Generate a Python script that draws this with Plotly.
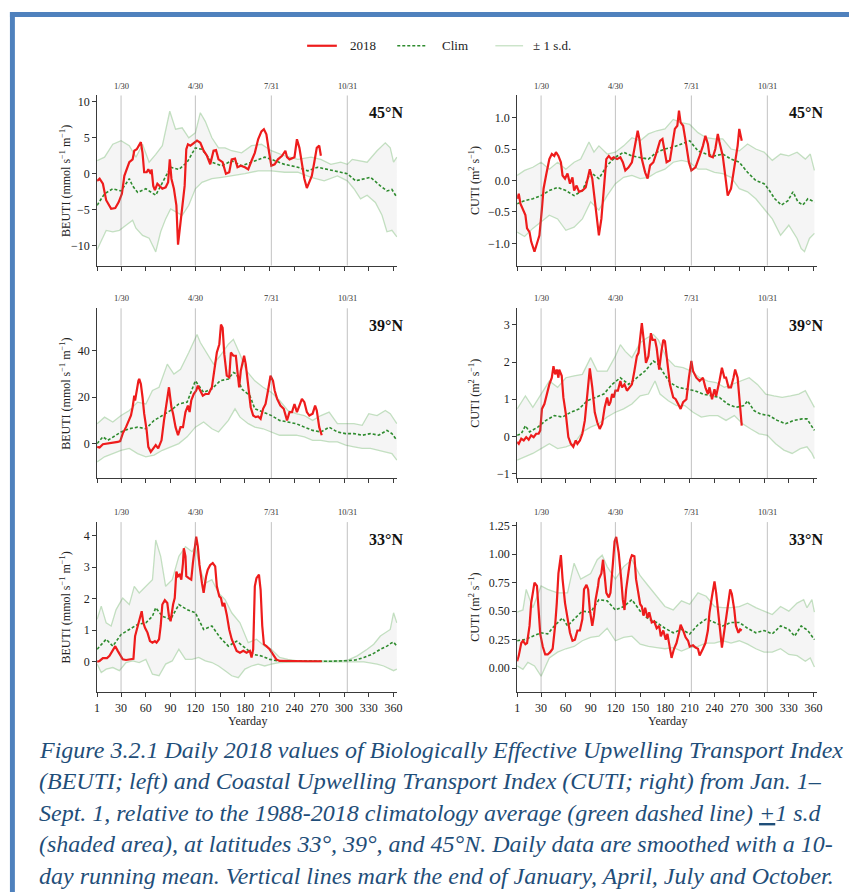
import plotly.graph_objects as go

# ---------------------------------------------------------------- data
# Month-end reference days and their labels
MONTH_END_DAYS = [30, 120, 212, 304]
MONTH_END_LABELS = ["1/30", "4/30", "7/31", "10/31"]
X_TICKS = [1, 30, 60, 90, 120, 150, 180, 210, 240, 270, 300, 330, 360]

# BEUTI 45N
beuti45_day = [1, 4, 8, 12, 18, 23, 27, 31, 34, 40, 44, 46, 49, 51, 54, 56, 58, 61, 63, 66,
               67, 69, 71, 74, 77, 80, 84, 87, 89, 91, 94, 97, 99, 102, 105, 107, 109, 111, 114, 118,
               122, 126, 130, 134, 138, 142, 145, 148, 153, 157, 161, 164, 168, 171, 175, 180, 184, 188, 192, 196,
               200, 203, 206, 209, 212, 216, 220, 225, 229, 231, 234, 240, 243, 246, 249, 252, 255, 258, 261, 264,
               267, 270, 272]
beuti45_2018 = [-1.0, -0.7, -1.4, -3.7, -4.9, -4.8, -4.0, -2.8, -0.3, 1.6, 2.0, 3.2, 3.4, 3.9, 4.4, 2.9, 0.2, 0.2, 0.6, 0.0,
                0.6, -1.7, -2.3, -1.4, -1.7, -2.1, -1.9, -1.2, 2.0, -0.7, -2.1, -4.4, -9.9, -6.7, -3.0, -1.7, 3.4, 4.1, 3.9, 4.3,
                4.6, 4.3, 3.2, 2.5, 1.3, 3.2, 3.3, 2.0, 1.6, 0.0, 0.2, 2.0, 2.1, 0.9, 1.1, 0.9, 0.6, 1.8, 2.9, 4.8,
                5.9, 6.2, 5.5, 3.2, 1.1, 1.3, 2.0, 2.5, 3.2, 2.3, 2.0, 2.3, 4.8, 3.6, 1.6, -0.7, -2.0, -1.0, -0.3, 1.6,
                3.6, 3.9, 2.5]
beuti45_clim_day = [1, 10, 20, 30, 40, 44, 50, 60, 72, 80, 90, 100, 110, 120, 128, 140, 152, 164, 176, 188,
                    204, 212, 228, 244, 256, 268, 280, 292, 304, 314, 324, 332, 344, 352, 358, 364]
beuti45_clim = [-4.4, -2.8, -2.1, -2.4, -0.7, -1.7, -2.6, -2.1, -3.0, -1.2, 0.9, 0.6, 1.6, 3.6, 3.4, 1.6, 1.1, 1.8, 1.1, 1.6,
                2.3, 2.0, 1.3, 0.9, 0.4, 0.9, 0.6, 0.3, 0.0, -1.0, -0.7, -0.5, -1.7, -2.4, -2.2, -3.3]
beuti45_hi_day = [1, 10, 20, 30, 40, 48, 56, 64, 72, 80, 89, 96, 104, 112, 120, 126, 132, 140, 148, 156,
                  164, 176, 188, 200, 212, 228, 244, 260, 272, 284, 296, 304, 310, 320, 328, 340, 350, 356, 360, 364]
beuti45_hi = [1.8, 2.3, 4.1, 4.6, 3.9, 2.3, 4.1, 1.6, 2.7, 3.9, 8.7, 6.2, 6.4, 5.0, 5.7, 8.5, 7.3, 5.0, 3.6, 3.6,
              3.2, 2.9, 3.9, 4.1, 3.2, 2.5, 2.0, 2.3, 2.0, 1.3, 1.6, 1.3, 2.0, 1.8, 1.6, 3.2, 4.3, 3.6, 1.6, 2.3]
beuti45_lo_day = [1, 6, 12, 20, 28, 36, 44, 48, 56, 64, 72, 78, 84, 90, 96, 104, 112, 120, 128, 140,
                  152, 164, 180, 196, 212, 228, 244, 260, 276, 292, 304, 312, 320, 328, 338, 346, 352, 358, 364]
beuti45_lo = [-10.6, -9.3, -7.9, -8.1, -7.9, -7.2, -6.5, -7.6, -8.6, -9.0, -10.9, -8.1, -6.3, -4.9, -5.3, -5.8, -4.4, -2.1, -1.2, -0.7,
              -0.5, -0.3, 0.0, 0.4, 0.4, 0.2, 0.2, -0.5, -1.0, -0.3, -1.0, -2.1, -3.5, -3.0, -4.0, -5.8, -8.1, -7.9, -8.8]

# CUTI 45N
cuti45_day = [1, 3, 5, 8, 11, 13, 16, 18, 22, 25, 28, 31, 33, 36, 40, 43, 46, 48, 51, 54,
              56, 59, 62, 65, 68, 70, 73, 76, 80, 84, 87, 89, 92, 95, 98, 100, 103, 106, 109, 112,
              115, 118, 122, 126, 129, 132, 136, 140, 144, 147, 149, 152, 156, 159, 162, 166, 170, 174, 177, 180,
              182, 186, 189, 192, 195, 197, 199, 202, 206, 209, 212, 214, 217, 222, 226, 229, 232, 234, 238, 241,
              244, 246, 250, 253, 256, 260, 264, 268, 270, 273]
cuti45_2018 = [-0.29, -0.21, -0.37, -0.45, -0.55, -0.76, -0.82, -0.97, -1.13, -1.0, -0.87, -0.45, -0.13, 0.08, 0.34, 0.42, 0.39, 0.45, 0.39, 0.29,
               0.08, 0.03, 0.11, -0.05, 0.05, -0.16, -0.08, -0.18, -0.16, -0.11, 0.05, 0.18, 0.03, -0.34, -0.61, -0.87, -0.61, -0.13, 0.34, 0.39,
               0.34, 0.37, 0.34, 0.37, 0.29, 0.16, 0.21, 0.29, 0.55, 0.79, 0.66, 0.34, 0.13, 0.03, 0.24, 0.29, 0.45, 0.63, 0.66, 0.39,
               0.29, 0.32, 0.55, 0.82, 0.87, 1.11, 0.92, 0.87, 0.55, 0.29, 0.16, 0.18, 0.21, 0.39, 0.55, 0.71, 0.58, 0.39, 0.37, 0.50,
               0.74, 0.61, 0.39, 0.08, -0.24, -0.13, 0.18, 0.55, 0.82, 0.63]
cuti45_clim_day = [1, 10, 20, 30, 40, 50, 60, 70, 80, 90, 100, 110, 120, 130, 140, 150, 160, 170, 180, 190,
                   200, 210, 220, 230, 240, 250, 260, 270, 280, 290, 300, 305, 313, 321, 329, 335, 341, 347, 353, 361]
cuti45_clim = [-0.37, -0.32, -0.29, -0.24, -0.16, -0.11, -0.16, -0.24, -0.16, 0.13, 0.03, 0.24, 0.37, 0.45, 0.39, 0.37, 0.34, 0.45, 0.50, 0.53,
               0.58, 0.63, 0.47, 0.42, 0.39, 0.42, 0.34, 0.29, 0.13, 0.0, -0.05, -0.13, -0.29, -0.39, -0.32, -0.18, -0.34, -0.39, -0.29, -0.34]
cuti45_hi_day = [1, 10, 20, 30, 40, 50, 60, 70, 78, 88, 94, 100, 110, 120, 130, 140, 150, 160, 170, 180,
                 190, 200, 210, 220, 230, 240, 250, 260, 270, 280, 290, 300, 310, 320, 330, 340, 350, 356, 361]
cuti45_hi = [0.08, 0.16, 0.21, 0.29, 0.18, 0.29, 0.18, 0.29, 0.34, 0.61, 0.45, 0.55, 0.42, 0.45, 0.55, 0.68, 0.63, 0.74, 0.79, 0.82,
             0.97, 0.92, 0.89, 0.76, 0.68, 0.66, 0.66, 0.50, 0.47, 0.58, 0.50, 0.45, 0.32, 0.42, 0.39, 0.45, 0.34, 0.42, 0.16]
cuti45_lo_day = [1, 10, 20, 30, 40, 50, 60, 70, 80, 90, 100, 110, 120, 130, 140, 150, 160, 170, 180, 190,
                 200, 210, 220, 230, 240, 250, 260, 270, 280, 290, 300, 310, 320, 330, 340, 345, 349, 355, 361]
cuti45_lo = [-0.82, -0.89, -0.76, -0.66, -0.55, -0.61, -0.79, -0.74, -0.61, -0.34, -0.47, -0.24, -0.05, 0.05, 0.08, 0.03, 0.05, 0.13, 0.18, 0.29,
             0.32, 0.29, 0.18, 0.18, 0.13, 0.11, 0.05, -0.13, -0.18, -0.29, -0.45, -0.61, -0.87, -0.71, -0.92, -1.08, -1.13, -0.92, -0.84]

# BEUTI 39N
beuti39_day = [1, 4, 8, 14, 20, 26, 29, 32, 36, 39, 42, 44, 46, 47, 49, 51, 52, 54, 56, 58,
               61, 63, 66, 69, 72, 75, 79, 82, 85, 88, 91, 93, 96, 99, 102, 105, 108, 111, 113, 115,
               118, 121, 123, 126, 129, 132, 136, 140, 143, 146, 149, 151, 153, 155, 158, 161, 163, 166, 169, 171,
               173, 175, 179, 181, 184, 187, 190, 193, 196, 199, 202, 205, 208, 211, 214, 216, 219, 223, 227, 231,
               234, 237, 240, 243, 246, 249, 252, 255, 258, 262, 265, 267, 270, 273]
beuti39_2018 = [-1.4, -1.7, -0.3, 0, 0.4, 0.7, 1.1, 4.3, 7.1, 10, 12.1, 15.7, 20.7, 18.6, 23.6, 27.1, 27.9, 25.7, 20, 12.9,
                5.7, -1.4, -3.6, -2.1, -0.7, -2.1, 1.4, 10, 17.1, 24.3, 15.7, 12.9, 7.1, 3.6, 7.1, 7.1, 13.6, 16.4, 13.6, 18.6,
                21.4, 22.9, 25, 22.9, 20.7, 21.4, 21.4, 24.3, 32.9, 39.3, 42.9, 51.4, 50, 38.6, 29.3, 28.6, 39.3, 37.9, 37.9, 31.4,
                24.3, 31.4, 37.9, 34.3, 24.3, 15.7, 12.1, 11.4, 11.7, 10.7, 15, 17.1, 22.9, 29.3, 27.1, 22.9, 19.3, 16.4, 15, 10,
                13.6, 13.6, 17.1, 13.6, 16.4, 19.3, 17.9, 13.6, 12.1, 12.9, 16.4, 14.3, 7.1, 3.6]
beuti39_clim_day = [1, 8, 14, 20, 30, 40, 50, 60, 70, 80, 90, 100, 110, 120, 130, 140, 150, 160, 166, 170,
                    176, 186, 192, 202, 212, 222, 232, 242, 252, 262, 272, 282, 292, 302, 312, 322, 332, 342, 352, 358, 364]
beuti39_clim = [0, 2.9, 1.4, 2.9, 5, 6.4, 7.1, 6.4, 10, 12.1, 14.3, 17.1, 17.9, 27.1, 22.1, 23.6, 27.1, 27.9, 30.7, 30,
                23.6, 20.7, 15, 13.6, 12.1, 10, 9.3, 8.6, 7.1, 5.7, 5, 7.1, 5, 4.3, 4.3, 3.6, 4.3, 3.6, 5.7, 4.3, 1.4]
beuti39_hi_day = [1, 10, 20, 30, 40, 50, 60, 68, 76, 86, 94, 102, 112, 118, 122, 126, 132, 142, 150, 160,
                  166, 174, 182, 192, 202, 212, 222, 232, 242, 252, 262, 272, 282, 292, 302, 312, 322, 330, 340, 350, 356, 364]
beuti39_hi = [8.6, 11.4, 9.3, 12.1, 14.3, 17.9, 17.1, 22.9, 24.3, 34.3, 30, 32.1, 39.3, 43.6, 47.1, 43.6, 40, 34.3, 37.9, 42.9,
              45, 38.6, 31.4, 27.1, 24.3, 22.1, 18.6, 14.3, 12.9, 12.1, 10, 12.1, 13.6, 8.6, 8.6, 8.6, 7.9, 12.9, 12.1, 14.3, 12.9, 8.6]
beuti39_lo_day = [1, 10, 20, 30, 40, 50, 60, 70, 80, 90, 100, 110, 120, 130, 140, 148, 160, 168, 174, 184,
                  192, 202, 212, 222, 232, 242, 252, 262, 272, 282, 292, 302, 312, 322, 332, 342, 352, 358, 364]
beuti39_lo = [-7.9, -5.7, -4.3, -2.9, -2.1, -4.3, -5.7, -5, -2.9, -1.4, 0, 2.9, 7.1, 9.3, 6.4, 5, 10, 15, 11.4, 8.6,
              7.1, 6.4, 5, 3.6, 3.6, 3.6, 2.9, 1.4, 1.4, 0.7, 0.7, -0.7, -1.4, -2.1, -2.1, -2.9, -3.6, -4.3, -7.1]

# CUTI 39N
cuti39_day = [1, 3, 6, 9, 12, 15, 18, 21, 24, 27, 29, 31, 34, 37, 40, 43, 45, 47, 49, 51,
              52, 55, 57, 60, 63, 66, 69, 72, 74, 77, 80, 83, 86, 88, 89, 92, 95, 98, 101, 104,
              107, 110, 112, 114, 116, 118, 120, 123, 126, 128, 131, 134, 137, 140, 143, 146, 148, 150, 152, 154,
              157, 160, 163, 165, 168, 170, 173, 176, 178, 180, 184, 186, 190, 193, 196, 199, 202, 206, 209, 212,
              214, 218, 222, 226, 229, 232, 234, 237, 240, 242, 246, 249, 252, 254, 257, 260, 263, 265, 268, 270, 273]
cuti39_2018 = [-0.15, -0.2, -0.06, -0.11, -0.02, -0.09, 0.03, -0.02, 0.07, 0.07, 0.16, 0.74, 0.87, 1.18, 1.4, 1.58, 1.89, 1.67, 1.8, 1.58,
               1.8, 1.63, 1.05, 0.6, -0.02, -0.2, -0.28, -0.11, -0.2, -0.11, 0.07, 0.43, 1.14, 1.58, 1.83, 1.32, 0.65, 0.38, 0.2, 0.34,
               0.78, 1.05, 0.83, 0.92, 1.14, 1.05, 1.23, 1.23, 1.49, 1.32, 1.4, 1.23, 1.32, 1.4, 1.76, 2.16, 2.25, 2.74, 3.05, 2.65,
               1.98, 2.16, 2.78, 2.6, 2.6, 2.38, 1.8, 2.33, 2.6, 2.56, 1.76, 1.4, 1.05, 1.0, 0.87, 0.74, 0.92, 1.0, 1.58, 2.03,
               1.76, 1.58, 1.49, 1.58, 1.32, 1.14, 1.32, 1.0, 1.27, 1.09, 1.49, 1.85, 1.58, 1.58, 1.32, 1.32, 1.58, 1.8, 1.58, 0.96, 0.29]
cuti39_clim_day = [1, 6, 11, 16, 26, 36, 46, 56, 66, 76, 86, 96, 106, 116, 126, 136, 146, 156, 166, 172,
                   178, 186, 196, 206, 216, 226, 236, 246, 256, 266, 276, 280, 288, 296, 306, 316, 326, 336, 346, 352, 361]
cuti39_clim = [0.03, 0.07, 0.29, 0.12, 0.25, 0.43, 0.56, 0.52, 0.65, 0.74, 0.96, 1.05, 1.14, 1.4, 1.58, 1.4, 1.58, 1.76, 2.03, 1.94,
               1.72, 1.45, 1.32, 1.27, 1.23, 1.14, 1.09, 1.05, 0.87, 0.78, 0.83, 0.96, 0.69, 0.6, 0.56, 0.43, 0.34, 0.43, 0.47, 0.47, 0.16]
cuti39_hi_day = [1, 11, 20, 30, 40, 50, 60, 70, 80, 90, 98, 110, 120, 126, 132, 140, 150, 158, 166, 172,
                 182, 192, 202, 212, 222, 232, 242, 252, 262, 272, 282, 292, 302, 312, 322, 332, 342, 350, 356, 361]
cuti39_hi = [0.74, 1.09, 0.78, 1.14, 1.49, 1.32, 1.58, 1.63, 1.67, 2.12, 1.76, 1.76, 2.16, 2.47, 2.29, 2.12, 2.52, 2.65, 2.74, 2.6,
             2.12, 1.89, 1.85, 1.76, 1.58, 1.49, 1.45, 1.32, 1.4, 1.49, 1.58, 1.4, 1.14, 1.09, 1.05, 1.09, 1.14, 1.23, 0.96, 0.78]
cuti39_lo_day = [1, 10, 20, 30, 40, 50, 60, 70, 80, 90, 100, 110, 120, 130, 140, 150, 160, 168, 174, 184,
                 194, 204, 214, 224, 234, 244, 254, 264, 274, 284, 294, 304, 314, 324, 334, 344, 352, 358, 361]
cuti39_lo = [-0.64, -0.55, -0.46, -0.33, -0.2, -0.33, -0.28, -0.2, 0.12, 0.25, 0.34, 0.52, 0.65, 0.74, 0.87, 1.09, 1.14, 1.49, 1.14, 0.96,
             0.83, 0.83, 0.65, 0.52, 0.56, 0.56, 0.43, 0.56, 0.34, 0.2, 0.07, 0.03, -0.2, -0.37, -0.46, -0.33, -0.28, -0.46, -0.6]

# BEUTI 33N
beuti33_day = [1, 4, 8, 13, 16, 20, 23, 26, 29, 32, 36, 42, 45, 47, 50, 53, 55, 57, 59, 62,
               65, 68, 71, 73, 76, 78, 80, 83, 86, 88, 90, 93, 95, 97, 99, 101, 103, 105, 106, 108,
               109, 112, 115, 117, 120, 121, 123, 125, 128, 130, 133, 135, 138, 141, 144, 146, 149, 151, 153, 155,
               158, 161, 164, 167, 170, 174, 178, 182, 186, 188, 190, 192, 194, 197, 199, 201, 203, 206, 210, 214,
               218, 222, 232, 244, 256, 268, 273]
beuti33_2018 = [0, 0.02, 0.11, 0.11, 0.18, 0.34, 0.49, 0.34, 0.18, 0.07, 0.05, 0.07, 0.09, 0.81, 1.13, 1.44, 1.6, 1.23, 1.07, 0.92,
                0.65, 0.6, 0.65, 0.6, 0.71, 1.13, 1.81, 1.95, 1.86, 1.44, 1.28, 1.81, 2.02, 2.86, 2.71, 2.76, 2.6, 3.13, 3.6, 3.34,
                2.71, 2.65, 2.6, 3.13, 3.86, 3.97, 3.65, 3.07, 2.49, 2.18, 2.71, 2.92, 3.07, 3.13, 3.02, 2.39, 2.07, 2.02, 1.76, 1.86,
                1.49, 1.02, 0.71, 0.49, 0.34, 0.28, 0.34, 0.28, 0.34, 0.13, 0.39, 2.39, 2.65, 2.76, 2.28, 1.13, 0.55, 0.49, 0.39, 0.23,
                0.07, 0.02, 0.01, 0.01, 0.01, 0.01, 0.01]
beuti33_clim_day = [1, 8, 12, 20, 30, 40, 50, 60, 68, 72, 80, 90, 100, 110, 120, 130, 140, 150, 160, 170,
                    180, 190, 200, 210, 220, 240, 264, 284, 304, 314, 324, 334, 344, 352, 358, 360, 364]
beuti33_clim = [0.39, 0.6, 0.71, 0.49, 0.86, 1.02, 1.18, 1.23, 1.44, 1.71, 1.44, 1.34, 1.81, 1.65, 1.55, 1.02, 1.13, 0.76, 0.49, 0.65,
                0.44, 0.23, 0.18, 0.07, 0.02, 0.01, 0.01, 0.01, 0.03, 0.05, 0.13, 0.23, 0.39, 0.49, 0.6, 0.62, 0.49]
beuti33_hi_day = [1, 6, 12, 18, 24, 32, 40, 46, 52, 60, 68, 72, 78, 84, 92, 100, 108, 116, 120, 126,
                  132, 140, 148, 156, 164, 174, 184, 194, 204, 212, 222, 232, 244, 264, 284, 304, 316, 328, 336, 344,
                  350, 356, 360, 364]
beuti33_hi = [1.34, 1.76, 1.23, 1.13, 1.65, 2.02, 1.81, 2.39, 2.18, 2.39, 2.6, 3.86, 3.34, 2.39, 2.6, 3.34, 3.65, 3.49, 3.65, 2.92,
              2.49, 2.6, 2.18, 1.97, 1.55, 1.23, 0.6, 0.71, 0.49, 0.39, 0.13, 0.07, 0.02, 0.03, 0.02, 0.04, 0.18, 0.39, 0.55, 0.81,
              0.92, 1.02, 1.55, 1.23]
beuti33_lo_day = [1, 6, 12, 20, 28, 36, 44, 52, 60, 68, 76, 84, 92, 100, 108, 116, 124, 132, 140, 148,
                  156, 164, 172, 180, 188, 196, 204, 212, 222, 244, 284, 304, 324, 340, 348, 356, 360, 364]
beuti33_lo = [-0.08, -0.35, -0.24, -0.19, -0.29, -0.03, 0.02, -0.03, 0.07, -0.4, -0.45, -0.08, 0.02, 0.39, 0.07, 0.07, 0.13, 0.02, -0.03, -0.14,
              -0.29, -0.45, -0.51, -0.24, -0.14, -0.08, -0.14, -0.08, -0.03, -0.01, -0.01, -0.01, -0.01, -0.08, -0.14, -0.24, -0.29, -0.24]

# CUTI 33N
cuti33_day = [1, 3, 6, 8, 11, 13, 16, 18, 20, 22, 25, 27, 29, 32, 35, 38, 41, 44, 47, 49,
              51, 54, 56, 59, 62, 65, 68, 71, 74, 77, 80, 82, 85, 87, 89, 92, 94, 96, 99, 100,
              103, 105, 107, 109, 112, 114, 117, 119, 121, 124, 127, 129, 131, 133, 136, 138, 140, 143, 145, 148,
              150, 152, 154, 156, 159, 161, 164, 167, 170, 173, 175, 178, 181, 183, 186, 188, 191, 194, 197, 199,
              202, 205, 208, 210, 214, 217, 220, 222, 226, 229, 232, 234, 237, 240, 242, 245, 247, 249, 251, 254,
              256, 259, 261, 264, 266, 269, 271, 273]
cuti33_2018 = [0.06, 0.11, 0.22, 0.24, 0.21, 0.22, 0.37, 0.57, 0.66, 0.75, 0.72, 0.49, 0.3, 0.19, 0.12, 0.12, 0.14, 0.17, 0.37, 0.57,
               0.83, 0.99, 0.78, 0.57, 0.43, 0.31, 0.24, 0.25, 0.33, 0.33, 0.43, 0.69, 0.73, 0.69, 0.51, 0.37, 0.46, 0.6, 0.72, 0.78,
               0.83, 0.95, 0.81, 0.66, 0.62, 0.66, 0.92, 1.11, 1.15, 1.01, 0.78, 0.6, 0.51, 0.69, 0.85, 0.95, 0.99, 0.98, 0.78, 0.63,
               0.56, 0.54, 0.46, 0.53, 0.44, 0.49, 0.4, 0.41, 0.35, 0.37, 0.28, 0.33, 0.25, 0.3, 0.19, 0.09, 0.17, 0.22, 0.31, 0.38,
               0.33, 0.27, 0.24, 0.19, 0.2, 0.18, 0.17, 0.11, 0.17, 0.22, 0.33, 0.49, 0.63, 0.76, 0.66, 0.43, 0.28, 0.18, 0.28, 0.43,
               0.57, 0.69, 0.65, 0.51, 0.37, 0.31, 0.34, 0.33]
cuti33_clim_day = [1, 10, 20, 30, 38, 46, 56, 62, 70, 80, 90, 100, 110, 120, 130, 140, 150, 160, 170, 180,
                   190, 200, 210, 220, 230, 240, 250, 260, 270, 280, 290, 300, 310, 320, 330, 337, 345, 353, 361]
cuti33_clim = [0.24, 0.25, 0.28, 0.31, 0.3, 0.37, 0.44, 0.37, 0.43, 0.5, 0.49, 0.6, 0.59, 0.51, 0.54, 0.6, 0.5, 0.43, 0.4, 0.35,
               0.31, 0.34, 0.3, 0.38, 0.43, 0.4, 0.37, 0.4, 0.4, 0.35, 0.31, 0.33, 0.3, 0.37, 0.34, 0.28, 0.37, 0.33, 0.25]
cuti33_hi_day = [1, 8, 12, 20, 30, 38, 50, 62, 70, 78, 90, 98, 104, 110, 120, 130, 140, 150, 160, 170,
                 180, 190, 200, 210, 220, 230, 240, 250, 260, 270, 280, 290, 300, 310, 320, 330, 340, 348, 352, 358, 361]
cuti33_hi = [0.49, 0.51, 0.69, 0.53, 0.72, 0.69, 0.66, 0.66, 0.92, 0.78, 0.83, 0.95, 0.99, 0.89, 0.78, 0.89, 0.95, 0.81, 0.72, 0.63,
             0.54, 0.51, 0.59, 0.56, 0.66, 0.63, 0.54, 0.53, 0.53, 0.54, 0.57, 0.53, 0.5, 0.47, 0.54, 0.5, 0.57, 0.6, 0.53, 0.6, 0.49]
cuti33_lo_day = [1, 8, 14, 22, 30, 40, 50, 60, 70, 80, 90, 100, 110, 120, 130, 140, 150, 160, 170, 180,
                 190, 200, 210, 220, 230, 240, 250, 260, 270, 280, 290, 300, 310, 320, 330, 340, 350, 356, 361]
cuti33_lo = [0.02, -0.01, 0.05, 0.02, -0.07, 0.09, 0.14, 0.17, 0.19, 0.24, 0.27, 0.28, 0.35, 0.24, 0.27, 0.28, 0.21, 0.19, 0.18, 0.17,
             0.18, 0.15, 0.18, 0.19, 0.22, 0.22, 0.24, 0.22, 0.24, 0.21, 0.17, 0.14, 0.14, 0.17, 0.12, 0.11, 0.06, 0.09, 0.01]

LEGEND_LABELS = ["2018", "Clim", "± 1 s.d."]

CAPTION_LINES = [
    "Figure 3.2.1 Daily 2018 values of Biologically Effective Upwelling Transport Index",
    "(BEUTI; left) and Coastal Upwelling Transport Index (CUTI; right) from Jan. 1–",
    "Sept. 1, relative to the 1988-2018 climatology average (green dashed line) <u>+</u>1 s.d",
    "(shaded area), at latitudes 33°, 39°, and 45°N. Daily data are smoothed with a 10-",
    "day running mean. Vertical lines mark the end of January, April, July and October.",
]

# ---------------------------------------------------------------- layout constants
W, H = 854, 894
SERIF = "Liberation Serif, Times New Roman, serif"
RED = "#ee1c1c"
GREEN = "#2e8b2e"
SD_GREEN = "rgba(150,200,145,0.55)"
SHADE = "rgba(205,205,205,0.2)"
AXIS = "#3a3a3a"

COL_PX = [(95, 398), (519, 822)]              # left/right plot edges
ROW_PX = [(93, 264), (307, 478), (522, 693)]  # top/bottom plot edges

BEUTI_TITLE = "BEUTI (mmol s<sup>−1</sup> m<sup>−1</sup>)"
CUTI_TITLE = "CUTI (m<sup>2</sup> s<sup>−1</sup>)"

panels = [
    dict(row=0, col=0, lat="45°N", title=BEUTI_TITLE,
         obs=(beuti45_day, beuti45_2018), clim=(beuti45_clim_day, beuti45_clim),
         hi=(beuti45_hi_day, beuti45_hi), lo=(beuti45_lo_day, beuti45_lo),
         yrange=[-12.8, 10.9], yticks=[-10, -5, 0, 5, 10], fmt="d"),
    dict(row=0, col=1, lat="45°N", title=CUTI_TITLE,
         obs=(cuti45_day, cuti45_2018), clim=(cuti45_clim_day, cuti45_clim),
         hi=(cuti45_hi_day, cuti45_hi), lo=(cuti45_lo_day, cuti45_lo),
         yrange=[-1.35, 1.35], yticks=[-1.0, -0.5, 0.0, 0.5, 1.0], fmt=".1f"),
    dict(row=1, col=0, lat="39°N", title=BEUTI_TITLE,
         obs=(beuti39_day, beuti39_2018), clim=(beuti39_clim_day, beuti39_clim),
         hi=(beuti39_hi_day, beuti39_hi), lo=(beuti39_lo_day, beuti39_lo),
         yrange=[-15.0, 58.4], yticks=[0, 20, 40], fmt="d"),
    dict(row=1, col=1, lat="39°N", title=CUTI_TITLE,
         obs=(cuti39_day, cuti39_2018), clim=(cuti39_clim_day, cuti39_clim),
         hi=(cuti39_hi_day, cuti39_hi), lo=(cuti39_lo_day, cuti39_lo),
         yrange=[-1.13, 3.45], yticks=[-1, 0, 1, 2, 3], fmt="d"),
    dict(row=2, col=0, lat="33°N", title=BEUTI_TITLE,
         obs=(beuti33_day, beuti33_2018), clim=(beuti33_clim_day, beuti33_clim),
         hi=(beuti33_hi_day, beuti33_hi), lo=(beuti33_lo_day, beuti33_lo),
         yrange=[-0.97, 4.43], yticks=[0, 1, 2, 3, 4], fmt="d"),
    dict(row=2, col=1, lat="33°N", title=CUTI_TITLE,
         obs=(cuti33_day, cuti33_2018), clim=(cuti33_clim_day, cuti33_clim),
         hi=(cuti33_hi_day, cuti33_hi), lo=(cuti33_lo_day, cuti33_lo),
         yrange=[-0.21, 1.28], yticks=[0, 0.25, 0.5, 0.75, 1.0, 1.25], fmt=".2f"),
]

for p in panels:
    for key in ("obs", "clim", "hi", "lo"):
        assert len(p[key][0]) == len(p[key][1]), (p["lat"], key)

fig = go.Figure()
shapes, annotations = [], []


def px(x, y):
    """Pixel position (from the top-left corner) to paper coordinates."""
    return x / W, 1 - y / H


for i, p in enumerate(panels, start=1):
    suffix = "" if i == 1 else str(i)
    xa, ya = "x" + suffix, "y" + suffix
    hd, hv = p["hi"]
    ld, lv = p["lo"]

    # shaded +/- 1 s.d. envelope
    fig.add_trace(go.Scatter(
        x=list(hd) + list(ld)[::-1], y=list(hv) + list(lv)[::-1],
        fill="toself", fillcolor=SHADE, line=dict(width=0),
        mode="lines", hoverinfo="skip", xaxis=xa, yaxis=ya))
    fig.add_trace(go.Scatter(x=hd, y=hv, mode="lines", line=dict(color=SD_GREEN, width=1.3),
                             name="± 1 s.d.", xaxis=xa, yaxis=ya))
    fig.add_trace(go.Scatter(x=ld, y=lv, mode="lines", line=dict(color=SD_GREEN, width=1.3),
                             name="± 1 s.d.", xaxis=xa, yaxis=ya))
    fig.add_trace(go.Scatter(x=p["clim"][0], y=p["clim"][1], mode="lines",
                             line=dict(color=GREEN, width=1.6, dash="3px,2px"),
                             name="Clim", xaxis=xa, yaxis=ya))
    fig.add_trace(go.Scatter(x=p["obs"][0], y=p["obs"][1], mode="lines",
                             line=dict(color=RED, width=2.2),
                             name="2018", xaxis=xa, yaxis=ya))

    x0, x1 = COL_PX[p["col"]]
    top, bot = ROW_PX[p["row"]]
    bottom_row = p["row"] == 2

    fig.layout["xaxis" + suffix] = dict(
        domain=[x0 / W, x1 / W], anchor=ya, range=[1, 364.5],
        tickvals=X_TICKS, showticklabels=bottom_row,
        ticks="outside", ticklen=4, tickcolor=AXIS, showline=True, linecolor=AXIS, linewidth=1,
        showgrid=False, zeroline=False, tickfont=dict(family=SERIF, size=12, color="#222"))
    fig.layout["yaxis" + suffix] = dict(
        domain=[1 - bot / H, 1 - top / H], anchor=xa, range=p["yrange"],
        tickvals=p["yticks"], tickformat=p["fmt"],
        ticks="outside", ticklen=4, tickcolor=AXIS, showline=True, linecolor=AXIS, linewidth=1,
        showgrid=False, zeroline=False, tickfont=dict(family=SERIF, size=12, color="#222"))

    # month-end markers
    _, label_y = px(0, top - 10)
    for d, lab in zip(MONTH_END_DAYS, MONTH_END_LABELS):
        shapes.append(dict(type="line", xref=xa, yref=f"{ya} domain", x0=d, x1=d, y0=0, y1=1,
                           line=dict(color="rgba(120,120,120,0.45)", width=1)))
        annotations.append(dict(xref=xa, yref="paper", x=d, y=label_y, text=lab,
                                xanchor="center", yanchor="middle", showarrow=False,
                                font=dict(family=SERIF, size=8.5, color="#333")))

    # latitude label
    annotations.append(dict(xref=f"{xa} domain", yref=f"{ya} domain", x=1.025, y=0.9,
                            xanchor="right", yanchor="middle", text=f"<b>{p['lat']}</b>",
                            showarrow=False, font=dict(family=SERIF, size=16, color="#111")))
    # y-axis title
    tx, ty = px(63 if p["col"] == 0 else 476, (top + bot) / 2)
    annotations.append(dict(xref="paper", yref="paper", x=tx, y=ty, xanchor="center", yanchor="middle",
                            text=p["title"], textangle=-90, showarrow=False,
                            font=dict(family=SERIF, size=12, color="#222")))
    if bottom_row:
        tx, ty = px((x0 + x1) / 2, 722)
        annotations.append(dict(xref="paper", yref="paper", x=tx, y=ty, xanchor="center",
                                yanchor="middle", text="Yearday", showarrow=False,
                                font=dict(family=SERIF, size=12, color="#222")))

fig.update_traces(showlegend=False)

# legend row across the top
LEGEND_Y = 43
legend_items = [  # (sample start, sample end, text start) in pixels
    (307, 337, 348, dict(color=RED, width=2.2)),
    (398, 428, 441, dict(color=GREEN, width=1.6, dash="3px,2px")),
    (497, 525, 533, dict(color=SD_GREEN, width=1.3)),
]
for label, (s0, s1, t0, style) in zip(LEGEND_LABELS, legend_items):
    ax0, ay = px(s0, LEGEND_Y)
    ax1, _ = px(s1, LEGEND_Y)
    shapes.append(dict(type="line", xref="paper", yref="paper", x0=ax0, x1=ax1, y0=ay, y1=ay, line=style))
    tx, _ = px(t0, LEGEND_Y)
    annotations.append(dict(xref="paper", yref="paper", x=tx, y=ay, xanchor="left", yanchor="middle",
                            text=label, showarrow=False, font=dict(family=SERIF, size=13, color="#222")))

# caption below the panels
for k, line in enumerate(CAPTION_LINES):
    tx, ty = px(34, 751 + 31.7 * k)
    annotations.append(dict(xref="paper", yref="paper", x=tx, y=ty,
                            xanchor="left", yanchor="middle", text=line, showarrow=False,
                            font=dict(family=SERIF, size=24, color="#1f4e79", style="italic")))

# frame along the top and left edges
shapes.append(dict(type="rect", xref="paper", yref="paper", x0=7 / W, x1=1.0,
                   y0=1 - 14 / H, y1=1 - 9 / H, fillcolor="#4f81bd", line=dict(width=0)))
shapes.append(dict(type="rect", xref="paper", yref="paper", x0=7 / W, x1=12 / W,
                   y0=0.0, y1=1 - 9 / H, fillcolor="#4f81bd", line=dict(width=0)))

fig.update_layout(
    width=W, height=H, margin=dict(l=0, r=0, t=0, b=0),
    paper_bgcolor="white", plot_bgcolor="white",
    shapes=shapes, annotations=annotations, showlegend=False,
)

fig.write_html("out.html")
